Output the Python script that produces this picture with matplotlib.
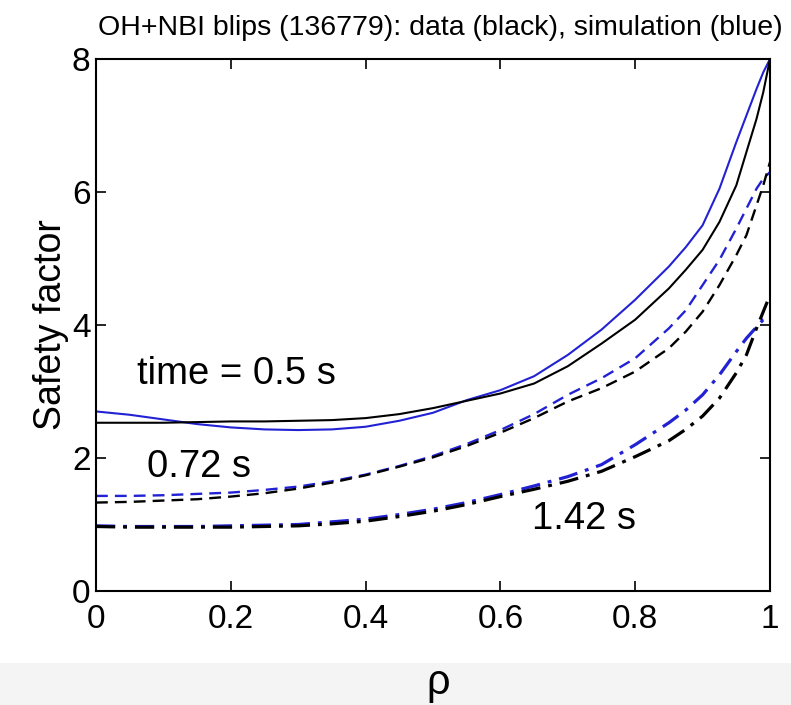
import matplotlib
matplotlib.use("Agg")
import matplotlib.pyplot as plt
from matplotlib.patches import Rectangle

# radial grid (rho) and safety-factor profiles
rho = [0.0, 0.05, 0.1, 0.15, 0.2, 0.25, 0.3, 0.35, 0.4, 0.45, 0.5, 0.55, 0.6,
       0.65, 0.7, 0.75, 0.8, 0.85, 0.875, 0.9, 0.925, 0.95, 0.965, 0.98, 0.99, 1.0]

# t = 0.5 s
q_data_050 = [2.53, 2.53, 2.53, 2.54, 2.55, 2.55, 2.56, 2.57, 2.6, 2.66, 2.75, 2.86, 2.97,
              3.12, 3.38, 3.72, 4.08, 4.55, 4.83, 5.13, 5.55, 6.1, 6.6, 7.1, 7.5, 8.0]
q_sim_050 = [2.7, 2.65, 2.58, 2.51, 2.46, 2.43, 2.42, 2.43, 2.47, 2.56, 2.68, 2.87, 3.02,
             3.23, 3.55, 3.93, 4.38, 4.88, 5.17, 5.5, 6.05, 6.75, 7.15, 7.55, 7.8, 8.0]

# t = 0.72 s
q_data_072 = [1.33, 1.34, 1.36, 1.38, 1.42, 1.47, 1.54, 1.63, 1.74, 1.87, 2.01, 2.18, 2.38,
              2.6, 2.85, 3.05, 3.3, 3.65, 3.9, 4.2, 4.6, 5.05, 5.35, 5.8, 6.1, 6.45]
q_sim_072 = [1.43, 1.43, 1.44, 1.46, 1.48, 1.52, 1.57, 1.65, 1.75, 1.88, 2.03, 2.21, 2.42,
             2.66, 2.95, 3.2, 3.5, 3.95, 4.22, 4.6, 4.98, 5.45, 5.75, 6.05, 6.2, 6.3]

# t = 1.42 s
q_data_142 = [0.97, 0.96, 0.96, 0.96, 0.96, 0.97, 0.98, 1.01, 1.05, 1.12, 1.2, 1.3, 1.42,
              1.53, 1.65, 1.8, 2.02, 2.26, 2.43, 2.63, 2.9, 3.28, 3.55, 3.95, 4.2, 4.45]
q_sim_142 = [0.98, 0.97, 0.97, 0.97, 0.98, 0.99, 1.0, 1.04, 1.08, 1.15, 1.23, 1.33, 1.45,
             1.58, 1.72, 1.9, 2.2, 2.53, 2.72, 2.95, 3.25, 3.6, 3.8, 3.97, 4.08, 4.12]

x_ticks = [0, 0.2, 0.4, 0.6, 0.8, 1.0]
x_labels = ["0", "0.2", "0.4", "0.6", "0.8", "1"]
y_ticks = [0, 2, 4, 6, 8]

BLUE = "#2222d4"
sans = ["Liberation Sans", "DejaVu Sans"]
plt.rcParams["font.family"] = sans

W, H = 791, 705
fig = plt.figure(figsize=(W / 100, H / 100), dpi=100)
fig.patch.set_facecolor("white")

# light grey band behind the rho label
fig.add_artist(Rectangle((0, 0), 1, (H - 663) / H, transform=fig.transFigure,
                         facecolor="#f4f4f4", edgecolor="none", zorder=0))

ax = fig.add_axes([96 / W, 1 - 591 / H, 674 / W, 532 / H])

dash = (0, (5, 3))
dashdot = (0, (6, 2.5, 1.2, 2.5))

ax.plot(rho, q_sim_050, color=BLUE, lw=1.5)
ax.plot(rho, q_data_050, color="black", lw=1.5)
ax.plot(rho, q_sim_072, color=BLUE, lw=1.7, linestyle=dash)
ax.plot(rho, q_data_072, color="black", lw=1.7, linestyle=dash)
ax.plot(rho, q_sim_142, color=BLUE, lw=2.3, linestyle=dashdot)
ax.plot(rho, q_data_142, color="black", lw=2.3, linestyle=dashdot)

ax.set_xlim(0, 1)
ax.set_ylim(0, 8)
ax.set_xticks(x_ticks)
ax.set_xticklabels(x_labels)
ax.set_yticks(y_ticks)
ax.tick_params(direction="in", top=True, right=True, length=7, width=1.2,
               labelsize=24)
ax.tick_params(axis="x", pad=9)
ax.tick_params(axis="y", pad=4)
for sp in ax.spines.values():
    sp.set_linewidth(1.5)

ax.set_ylabel("Safety factor", fontsize=27, labelpad=2)

ax.text(0.061, 3.11, "time = 0.5 s", fontsize=27.5, va="baseline")
ax.text(0.076, 1.71, "0.72 s", fontsize=27.5, va="baseline")
ax.text(0.647, 0.93, "1.42 s", fontsize=27.5, va="baseline")

fig.text(440 / W, 1 - 28 / H,
         "OH+NBI blips (136779): data (black), simulation (blue)",
         ha="center", va="center", fontsize=20.5)
fig.text(438 / W, 1 - 683 / H, "ρ", ha="center", va="center", fontsize=30)

fig.savefig("out.png", dpi=100)
